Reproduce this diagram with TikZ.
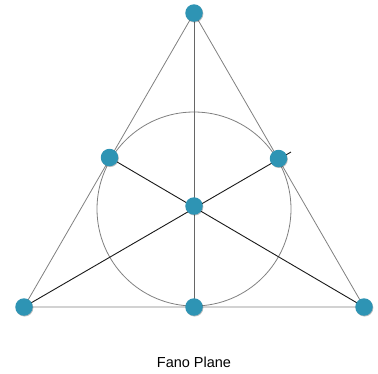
\documentclass[tikz,border=0pt]{standalone}
\usepackage{fontspec}
\setmainfont{Liberation Sans}
\usetikzlibrary{shadows}
\definecolor{dotc}{RGB}{46,148,180}
\begin{document}
\begin{tikzpicture}[x=1pt,y=-1pt,
  dot/.style={circle,fill=dotc,inner sep=0pt,minimum size=17.5pt,
    drop shadow={shadow xshift=0.6pt,shadow yshift=-0.8pt,opacity=0.25,fill=black}},
  edge/.style={draw=black!50,line width=0.8pt},
  median/.style={draw=black!90,line width=0.9pt},
  vert/.style={draw=black!60,line width=1pt}]
\useasboundingbox (0,0) rectangle (378,373);
\coordinate (T) at (194,13);
\coordinate (BL) at (24,307);
\coordinate (BR) at (364,307);
\coordinate (ML) at (109.5,157.5);
\coordinate (MR) at (278.5,158.5);
\coordinate (MB) at (194,307);
\coordinate (C) at (194,206);
\coordinate (ext) at (291,152);
\draw[edge] (194,209) circle (97);
\draw[edge] (T) -- (BL) -- (BR) -- cycle;
\draw[vert] (T) -- (MB);
\draw[median] (BL) -- (ext);
\draw[median] (BR) -- (ML);
\foreach \p in {T,BL,BR,ML,MR,MB,C}
  \node[dot] (n\p) at (\p) {};
\node[font=\fontsize{14.5}{17}\selectfont] (lbl) at (194,362) {Fano Plane};
\end{tikzpicture}
\end{document}
